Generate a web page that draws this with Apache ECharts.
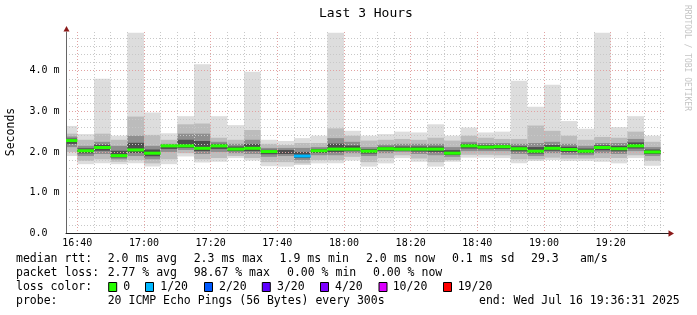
<!DOCTYPE html>
<html><head><meta charset="utf-8">
<script src="https://cdn.jsdelivr.net/npm/echarts@6/dist/echarts.min.js"></script>
<style>html,body{margin:0;padding:0;background:#fff}#c{width:697px;height:315px}</style>
</head><body><div id="c"></div>
<script>
// ---- data ----
const binStart = ["16:35","16:40","16:45","16:50","16:55","17:00","17:05","17:10","17:15","17:20","17:25","17:30",
  "17:35","17:40","17:45","17:50","17:55","18:00","18:05","18:10","18:15","18:20","18:25","18:30",
  "18:35","18:40","18:45","18:50","18:55","19:00","19:05","19:10","19:15","19:20","19:25","19:30"];
const rttMax = [2.64,2.44,3.80,2.40,4.93,2.97,2.46,2.88,4.16,2.88,2.66,3.97,
  2.30,2.27,2.34,2.40,4.93,2.52,2.40,2.44,2.50,2.48,2.68,2.40,
  2.60,2.48,2.50,3.75,3.11,3.65,2.76,2.57,4.93,2.61,2.88,2.40];
const rttP90 = [2.45,2.30,2.45,2.30,2.87,2.42,2.30,2.68,2.70,2.35,2.30,2.54,
  2.20,2.17,2.22,2.22,2.58,2.40,2.28,2.30,2.32,2.30,2.35,2.28,
  2.40,2.35,2.32,2.32,2.65,2.52,2.40,2.30,2.37,2.35,2.50,2.25];
const rttP75 = [2.38,2.15,2.25,2.15,2.40,2.15,2.20,2.45,2.45,2.25,2.20,2.30,
  2.10,2.10,2.10,2.12,2.34,2.25,2.12,2.18,2.20,2.20,2.20,2.12,
  2.25,2.22,2.22,2.20,2.22,2.25,2.20,2.15,2.22,2.22,2.32,2.12];
const rttMedian = [2.28,2.03,2.11,1.91,2.05,1.97,2.15,2.15,2.09,2.15,2.07,2.09,
  2.01,null,1.90,2.03,2.07,2.07,2.02,2.08,2.07,2.07,2.07,1.97,
  2.15,2.12,2.13,2.08,2.02,2.09,2.06,2.02,2.11,2.08,2.15,2.00];
const rttP25 = [2.12,1.90,1.95,1.82,1.90,1.82,2.00,2.05,1.95,2.00,1.97,1.95,
  1.88,1.90,1.80,1.92,1.92,1.97,1.90,1.97,2.00,1.95,1.92,1.88,
  2.02,2.02,2.02,1.95,1.90,1.97,1.93,1.92,1.97,1.95,2.02,1.90];
const rttP10 = [2.00,1.78,1.82,1.76,1.80,1.72,1.82,1.97,1.82,1.85,1.90,1.85,
  1.75,1.75,1.72,1.80,1.80,1.88,1.75,1.85,1.92,1.84,1.75,1.80,
  1.93,1.93,1.92,1.82,1.82,1.86,1.84,1.84,1.85,1.85,1.92,1.78];
const rttMin = [1.90,1.70,1.72,1.70,1.72,1.64,1.70,1.89,1.74,1.76,1.85,1.79,
  1.65,1.64,1.68,1.72,1.72,1.79,1.64,1.72,1.85,1.76,1.64,1.76,
  1.86,1.86,1.85,1.72,1.78,1.80,1.78,1.78,1.76,1.72,1.85,1.66];
const lossIndex = [0,0,0,0,0,0,0,0,0,0,0,0, 0,0,1,0,0,0,0,0,0,0,0,0, 0,0,0,0,0,0,0,0,0,0,0,0];
const lossLabels = ["0","1/20","2/20","3/20","4/20","10/20","19/20"];
const lossColors = ["#26ff00","#00b8ff","#0059ff","#5e00ff","#7e00ff","#dd00ff","#ff0000"];
const xTickLabels = ["16:40","17:00","17:20","17:40","18:00","18:20","18:40","19:00","19:20"];
const yTickValues = [0,1,2,3,4];
const yTickLabels = ["0.0","1.0 m","2.0 m","3.0 m","4.0 m"];
const titleText = "Last 3 Hours";
const yName = "Seconds";
const rttStats = ["2.0 ms avg","2.3 ms max","1.9 ms min","2.0 ms now","0.1 ms sd","29.3","am/s"];
const lossStats = ["2.77 % avg","98.67 % max","0.00 % min","0.00 % now"];
const probeText = "20 ICMP Echo Pings (56 Bytes) every 300s";
const endText = "end: Wed Jul 16 19:36:31 2025";

// ---- helpers ----
const toMin = s => { const p = s.split(':').map(Number); return p[0] * 60 + p[1]; };
const X_MIN = 996.6, X_MAX = 1176.6, BIN = 5;
const majorX = xTickLabels.map(toMin);
const minorX = [];
for (let t = 1000; t <= 1175; t += 5) if (majorX.indexOf(t) < 0) minorX.push(t);
const minorY = [];
for (let k = 1; k < 25; k++) if (k % 5) minorY.push(+(k * 0.2).toFixed(1));
const fmtTime = v => { const h = Math.floor(v / 60), m = Math.round(v - h * 60); return h + ':' + (m < 10 ? '0' : '') + m; };

const MONO = '"DejaVu Sans Mono", monospace';
const smokeData = binStart.map((s, i) => [toMin(s), rttMin[i], rttP10[i], rttP25[i], rttMedian[i], rttP75[i], rttP90[i], rttMax[i], lossIndex[i]]);

function clipRect(r, params) {
  return echarts.graphic.clipRectByRect(r, {x: params.coordSys.x, y: params.coordSys.y, width: params.coordSys.width, height: params.coordSys.height});
}
function band(api, params, t0, lo, hi, color) {
  const a = api.coord([t0, hi]), b = api.coord([t0 + BIN, lo]);
  const r = clipRect({x: a[0], y: a[1], width: b[0] - a[0], height: b[1] - a[1]}, params);
  if (!r) return null;
  return {type: 'rect', shape: r, style: {fill: color}};
}
function renderSmoke(params, api) {
  const t0 = api.value(0);
  const mn = api.value(1), p10 = api.value(2), p25 = api.value(3), med = api.value(4),
        p75 = api.value(5), p90 = api.value(6), mx = api.value(7);
  const children = [];
  const push = e => { if (e) children.push(e); };
  push(band(api, params, t0, mn, mx, '#dddddd'));
  push(band(api, params, t0, p10, p90, '#bcbcbc'));
  push(band(api, params, t0, p25, p75, '#8e8e8e'));
  const c = isNaN(med) ? (p25 + p75) / 2 : med;
  push(band(api, params, t0, (p25 + c) / 2, (c + p75) / 2, '#4e4e4e'));
  return {type: 'group', children};
}
function renderMedian(params, api) {
  const t0 = api.value(0), med = api.value(4);
  if (isNaN(med)) return null;
  const a = api.coord([t0, med]), b = api.coord([t0 + BIN, med]);
  const r = clipRect({x: a[0], y: a[1] - 1.5, width: b[0] - a[0], height: 3}, params);
  if (!r) return null;
  return {type: 'rect', shape: r, style: {fill: lossColors[api.value(8)]}};
}

const minorLine = {show: true, lineStyle: {color: '#c8c8c8', width: 1, type: [1, 2]}};
const majorLine = {show: true, lineStyle: {color: '#e2a2a2', width: 1, type: [1, 2]}};

// ---- legend graphics ----
const LF = '11.5px ' + MONO;
const rowY = [259, 273, 287, 301];
const rttStatX = [107.7, 193.7, 279.6, 366, 452, 531, 580];
const lossStatX = [107.7, 193.7, 287, 373];
const boxX = [108.2, 145, 204, 261.8, 320, 378.5, 443];
const boxLabelX = [123.3, 160.3, 219, 277, 335, 392.7, 457.7];
const g = [];
const txt = (text, x, y, extra) => g.push({type: 'text', x: x, y: y, style: Object.assign({text: text, font: LF, fill: '#000', verticalAlign: 'middle', align: 'left'}, extra || {}), silent: true});
txt('median rtt:', 16, rowY[0]);
rttStats.forEach((s, i) => txt(s, rttStatX[i], rowY[0]));
txt('packet loss:', 16, rowY[1]);
lossStats.forEach((s, i) => txt(s, lossStatX[i], rowY[1]));
txt('loss color:', 16, rowY[2]);
lossLabels.forEach((s, i) => {
  g.push({type: 'rect', shape: {x: boxX[i] + 0.5, y: rowY[2] - 4.5, width: 8, height: 9}, style: {fill: lossColors[i], stroke: '#000', lineWidth: 1}, silent: true});
  txt(s, boxLabelX[i], rowY[2]);
});
txt('probe:', 16, rowY[3]);
txt(probeText, 107.7, rowY[3]);
txt(endText, 479, rowY[3]);
// axis name
g.push({type: 'text', x: 11, y: 132, rotation: Math.PI / 2, style: {text: yName, font: LF, fill: '#000', align: 'center', verticalAlign: 'middle'}, silent: true});
// rrdtool credit
g.push({type: 'text', x: 687, y: 5, rotation: -Math.PI / 2, style: {text: 'RRDTOOL / TOBI OETIKER', font: '8px ' + MONO, fill: '#c4c4c4', align: 'left', verticalAlign: 'middle'}, silent: true});
// axis arrows
g.push({type: 'polygon', shape: {points: [[63.5, 31.5], [66.5, 26], [69.5, 31.5]]}, style: {fill: '#8b1a1a'}, silent: true, z: 10});
g.push({type: 'line', shape: {x1: 666, y1: 233.5, x2: 669, y2: 233.5}, style: {stroke: '#222', lineWidth: 1}, silent: true, z: 10});
g.push({type: 'polygon', shape: {points: [[668.5, 230.3], [674, 233.5], [668.5, 236.7]]}, style: {fill: '#8b1a1a'}, silent: true, z: 10});

const option = {
  backgroundColor: '#ffffff',
  animation: false,
  title: {text: titleText, left: 319, top: 7, padding: 0, textStyle: {fontFamily: MONO, fontSize: 13, fontWeight: 'normal', color: '#000'}},
  grid: {left: 66, top: 32, width: 600, height: 201.3, containLabel: false},
  xAxis: [
    {type: 'value', min: X_MIN, max: X_MAX, position: 'bottom', z: 3,
     axisLine: {show: true, onZero: false, lineStyle: {color: '#222', width: 1}},
     axisTick: {show: false, customValues: minorX},
     axisLabel: {show: false}, splitLine: minorLine},
    {type: 'value', min: X_MIN, max: X_MAX, position: 'bottom', z: 3,
     axisLine: {show: false},
     axisTick: {show: false, customValues: majorX},
     axisLabel: {show: true, customValues: majorX, formatter: v => fmtTime(v), fontFamily: MONO, fontSize: 10, color: '#000', margin: 5},
     splitLine: majorLine}
  ],
  yAxis: [
    {type: 'value', min: 0, max: 4.95, z: 3,
     axisLine: {show: true, lineStyle: {color: '#666', width: 1}},
     axisTick: {show: false, customValues: yTickValues},
     axisLabel: {show: true, customValues: yTickValues, formatter: v => yTickLabels[yTickValues.indexOf(Math.round(v))], fontFamily: MONO, fontSize: 10, color: '#000', align: 'left', margin: 36.5},
     splitLine: majorLine},
    {type: 'value', min: 0, max: 4.95, z: 3,
     axisLine: {show: false},
     axisTick: {show: false, customValues: minorY},
     axisLabel: {show: false}, splitLine: minorLine}
  ],
  series: [
    {type: 'custom', name: 'smoke', xAxisIndex: 0, yAxisIndex: 0, z: 2, renderItem: renderSmoke, data: smokeData, silent: true},
    {type: 'custom', name: 'median', xAxisIndex: 0, yAxisIndex: 0, z: 5, renderItem: renderMedian, data: smokeData, silent: true}
  ],
  graphic: g
};
const chart = echarts.init(document.getElementById('c'));
chart.setOption(option);
</script>
</body></html>
